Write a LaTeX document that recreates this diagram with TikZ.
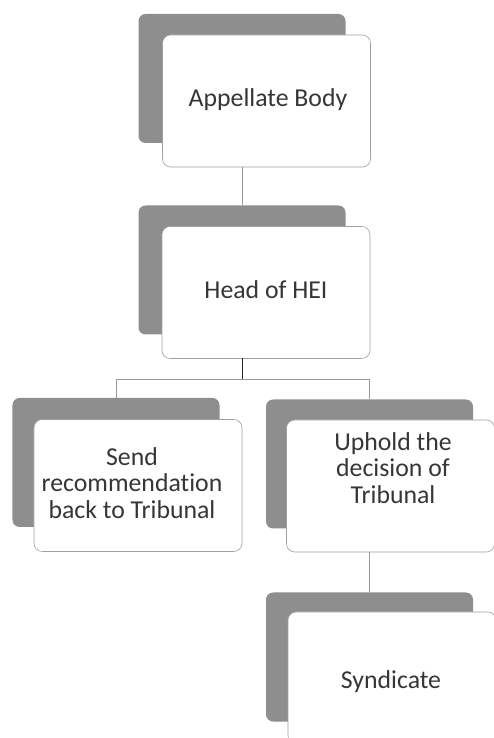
\documentclass[tikz,border=0pt]{standalone}
\usepackage{fontspec}
\setmainfont[RawFeature=-liga]{Carlito}
\usepackage{xcolor}
\usetikzlibrary{positioning,calc}
\definecolor{shade}{HTML}{8E8E8E}
\definecolor{rim}{HTML}{A0A0A0}
\definecolor{ink}{HTML}{363636}
\tikzstyle{line}=[draw,gray!80,line width=0.6pt]
\tikzstyle{back}=[fill=shade,rounded corners=6pt,minimum width=6.21cm,minimum height=3.87cm,inner sep=0pt,outer sep=0pt]
\tikzstyle{card}=[draw=rim,fill=white,line width=0.5pt,rounded corners=7pt,minimum width=6.24cm,minimum height=3.96cm,inner sep=0pt,outer sep=0pt]
\tikzstyle{cardtext}=[align=center,text=ink,font=\fontsize{22}{22.5}\selectfont,inner sep=0pt]

\begin{document}
\begin{tikzpicture}[x=0.3mm,y=0.3mm]
\useasboundingbox (0,0) rectangle (494,738);
\clip (0,0) rectangle (494,738);
% shadows
\node[back](s1) at (242,659.5){};
\node[back](s2) at (242,468){};
\node[back](s3) at (116,275.5){};
\node[back](s4) at (369.5,274){};
\node[back](s5) at (369.5,81){};
% cards
\node[card](appellate) at (266.5,637){};
\node[card](head) at (266,445.5){};
\node[card](send) at (138,252.5){};
\node[card](uphold) at (390.5,252){};
\node[card](syndicate) at (392,60){};
% texts
\node[cardtext](t1) at (268,638){Appellate Body};
\node[cardtext](t2) at (266,448){Head of HEI};
\node[cardtext](t3) at (132,255){Send\\recommendation\\back to Tribunal};
\node[cardtext](t4) at (393,270){Uphold the\\decision of\\Tribunal};
\node[cardtext](t5) at (391,56){Syndicate};
% connectors
\coordinate (fork) at ($(s2.south |- head.south)+(0,-21)$);
\draw [line] (s1.south |- appellate.south)--(s2.north);
\draw [line,draw=black!85,line width=0.8pt] (s2.south |- head.south)--(fork);
\draw [line] (s3.north |- fork)--(s4.north |- fork);
\draw [line] (s3.north |- fork)--(s3.north);
\draw [line] (s4.north |- fork)--(s4.north);
\draw [line] (s4.south |- uphold.south)--(s5.north);
\end{tikzpicture}
\end{document}
